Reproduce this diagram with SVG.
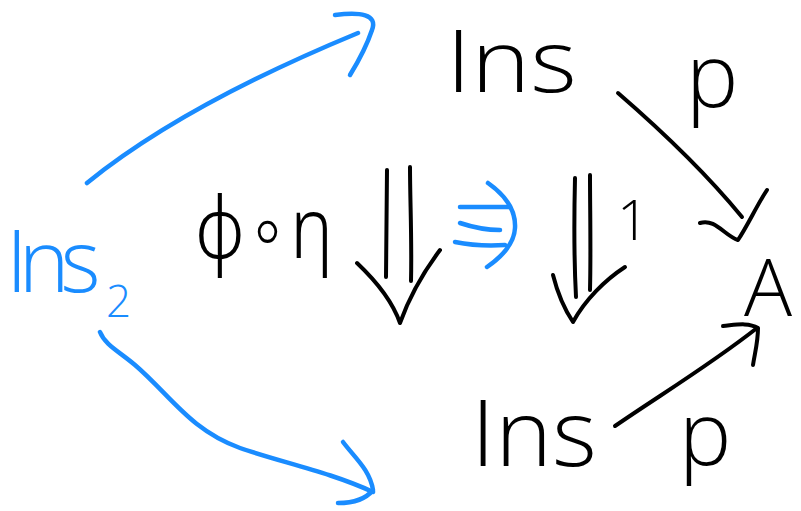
<svg xmlns="http://www.w3.org/2000/svg" width="801" height="511" viewBox="0 0 801 511">
<style>
.t{font-family:"Open Sans","Liberation Sans","DejaVu Sans",sans-serif;font-weight:300;fill:#000}
.b{fill:#1a8cff}
.s{fill:none;stroke:#000;stroke-width:4;stroke-linecap:round;stroke-linejoin:round}
.sb{fill:none;stroke:#1a8cff;stroke-width:4.5;stroke-linecap:round;stroke-linejoin:round}
</style>
<rect width="801" height="511" fill="#fff"/>
<g id="ins-top"><text class="t" x="446" y="92" font-size="86" textLength="131" lengthAdjust="spacingAndGlyphs">Ins</text></g>
<g id="ins-bottom"><text class="t" x="471" y="466" font-size="92" textLength="126" lengthAdjust="spacingAndGlyphs">Ins</text></g>
<g id="ins2"><text class="t b" x="6" y="292" font-size="86" letter-spacing="-9">Ins<tspan x="106" y="317" font-size="44" letter-spacing="0">2</tspan></text></g>
<g id="A"><text class="t" x="744" y="316" font-size="80">A</text></g>
<g id="connectors">
<path class="sb" d="M87,183 C140,140 220,90 358,33"/>
<path class="sb" d="M335,15 C360,12 378,14 372,30 C367,45 358,62 350,75" stroke-width="6"/>
<path class="sb" d="M100,332 C105,345 120,352 135,365 C170,395 190,430 240,448 C280,462 330,472 373,492"/>
<path class="sb" d="M343,442 C355,458 370,470 373,490 C365,500 350,503 338,503" stroke-width="6"/>
<path class="s" d="M618,93 C670,138 710,178 742,217"/>
<path class="s" d="M700,223 C715,218 725,236 738,240 C748,225 757,205 767,190"/>
<path class="s" d="M615,426 C660,395 710,365 757,328"/>
<path class="s" d="M723,326 C735,325 748,322 758,328 C758,342 755,352 753,365" stroke-width="5"/>
<g id="phi-eta">
<path class="s" d="M387,170 L386,277"/>
<path class="s" d="M410,167 C410,200 412,240 411,281"/>
<path class="s" d="M357,263 C375,280 392,300 400,323 C410,295 425,270 440,250"/>
<text class="t" x="195" y="258" font-size="84" textLength="138" lengthAdjust="spacingAndGlyphs" style="font-family:'Noto Sans','DejaVu Sans',sans-serif;font-weight:300">ϕ∘η</text>
</g>
<g id="identity">
<path class="s" d="M575,178 C574,220 574,260 576,297"/>
<path class="s" d="M590,175 C590,210 591,250 590,290"/>
<path class="s" d="M553,275 C558,295 565,310 573,322 C585,300 605,280 625,267"/>
<text class="t" x="617" y="240" font-size="56">1</text>
</g>
<g id="triple-arrow">
<path class="sb" d="M460,207 L510,207"/>
<path class="sb" d="M460,223 C475,228 490,230 500,230"/>
<path class="sb" d="M455,242 C475,246 490,246 505,245"/>
<path class="sb" d="M488,183 C505,195 516,210 515,228 C514,245 500,258 487,267" stroke-width="5"/>
</g>
<text class="t" x="686" y="107" font-size="88">p</text>
<text class="t" x="679" y="465" font-size="88">p</text>
</g>
</svg>
